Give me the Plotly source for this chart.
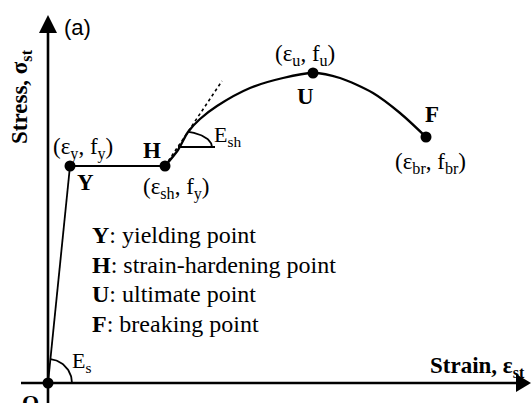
import numpy as np
import plotly.graph_objects as go

# key points of the idealised steel stress-strain curve (arbitrary units)
point_names = ["O", "Y", "H", "U", "F"]
point_strain = [0, 22, 117, 265, 378]
point_stress = [0, 217, 217, 310, 246]

# strain-hardening branch H -> U -> F
harden_strain = [117, 130, 140, 152, 169, 202, 235, 265, 292, 325, 352, 378]
harden_stress = [217, 233, 251, 264, 277, 295, 305, 310, 305, 290, 270, 246]

# tangent at H (slope = E_sh)
tangent_strain = [117, 174]
tangent_stress = [217, 302]

legend_keys = ["Y", "H", "U", "F"]
legend_desc = ["yielding point", "strain-hardening point", "ultimate point", "breaking point"]

SERIF = "Liberation Serif, Times New Roman, serif"
BLACK = "black"

fig = go.Figure()

# elastic branch O -> Y
fig.add_trace(go.Scatter(x=point_strain[0:2], y=point_stress[0:2], mode="lines",
                         line=dict(color=BLACK, width=1.8)))
# yield plateau Y -> H
fig.add_trace(go.Scatter(x=point_strain[1:3], y=point_stress[1:3], mode="lines",
                         line=dict(color=BLACK, width=2.2)))
# hardening curve
fig.add_trace(go.Scatter(x=harden_strain, y=harden_stress, mode="lines",
                         line=dict(color=BLACK, width=2.3, shape="spline", smoothing=0.8)))
# tangent
fig.add_trace(go.Scatter(x=tangent_strain, y=tangent_stress, mode="lines",
                         line=dict(color=BLACK, width=1.6, dash="dot")))

# E_s angle arc at origin
t = np.linspace(0, np.arctan2(point_stress[1], point_strain[1]), 30)
fig.add_trace(go.Scatter(x=24 * np.cos(t), y=24 * np.sin(t), mode="lines",
                         line=dict(color=BLACK, width=1.8)))

# E_sh angle: horizontal reference + arc
cx, cy = 130, 236
fig.add_trace(go.Scatter(x=[cx, cx + 37], y=[cy, cy], mode="lines",
                         line=dict(color=BLACK, width=1.8)))
t = np.linspace(0, np.radians(72), 30)
fig.add_trace(go.Scatter(x=cx + 34 * np.cos(t), y=cy + 16 * np.sin(t), mode="lines",
                         line=dict(color=BLACK, width=1.8)))

# key point markers
fig.add_trace(go.Scatter(x=point_strain, y=point_stress, mode="markers",
                         marker=dict(color=BLACK, size=11), text=point_names))

# axes with arrow heads
shapes = [
    dict(type="line", x0=-27, y0=0, x1=470, y1=0, line=dict(color=BLACK, width=2.6)),
    dict(type="line", x0=0, y0=-25, x1=0, y1=352, line=dict(color=BLACK, width=2.6)),
    dict(type="path", path="M 468,9 L 483,0 L 468,-9 Z", fillcolor=BLACK, line=dict(width=0)),
    dict(type="path", path="M -9,350 L 0,368 L 9,350 Z", fillcolor=BLACK, line=dict(width=0)),
]
for s in shapes:
    s.update(xref="x", yref="y")

def ann(x, y, text, size=23, **kw):
    d = dict(x=x, y=y, text=text, showarrow=False, xref="x", yref="y",
             font=dict(family=SERIF, size=size, color=BLACK))
    d.update(kw)
    return d

annotations = [
    ann(29, 356, "(a)", font=dict(family="Liberation Sans, Arial", size=22, color=BLACK)),
    ann(-27, 286, "<b>Stress, σ<sub>st</sub></b>", size=23, textangle=-90),
    ann(479, 16, "<b>Strain, ε<sub>st</sub></b>", size=23, xanchor="right"),
    ann(-18, -19, "<b>O</b>", size=22),
    ann(22, 21, "E<sub>s</sub>", size=22, xanchor="left"),
    ann(35, 235, "(ε<sub>y</sub>, f<sub>y</sub>)"),
    ann(37, 201, "<b>Y</b>"),
    ann(104, 233, "<b>H</b>"),
    ann(128, 195, "(ε<sub>sh</sub>, f<sub>y</sub>)"),
    ann(164, 247, "E<sub>sh</sub>", size=22, xanchor="left"),
    ann(257, 328, "(ε<sub>u</sub>, f<sub>u</sub>)"),
    ann(257, 287, "<b>U</b>"),
    ann(384, 269, "<b>F</b>"),
    ann(382, 220, "(ε<sub>br</sub>, f<sub>br</sub>)"),
]
for i, (k, d) in enumerate(zip(legend_keys, legend_desc)):
    annotations.append(ann(42, 148 - 29.5 * i, f"<b>{k}</b>: {d}", size=24, xanchor="left"))

fig.update_layout(
    width=531, height=403,
    margin=dict(l=0, r=0, t=0, b=0),
    paper_bgcolor="white", plot_bgcolor="white",
    showlegend=False,
    xaxis=dict(visible=False, range=[-48, 483]),
    yaxis=dict(visible=False, range=[-20, 383]),
    shapes=shapes,
    annotations=annotations,
)

# drop the default 8px body margin so the figure sits at the page corner
fig.write_html("out.html", config=dict(displayModeBar=False),
               post_script="document.body.style.margin='0';")
